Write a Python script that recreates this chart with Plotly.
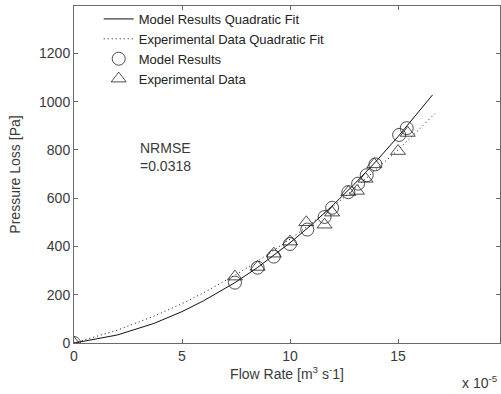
import plotly.graph_objects as go

# Flow rate values in units of 1e-5 m^3/s, pressure loss in Pa
model_x = [0, 7.45, 8.5, 9.25, 10.0, 10.8, 11.6, 11.95, 12.7, 13.15, 13.55, 13.95, 15.05, 15.4]
model_y = [0, 250, 312, 358, 410, 470, 522, 560, 625, 660, 695, 740, 862, 890]

exp_x = [0, 7.45, 8.5, 9.25, 10.0, 10.75, 11.6, 11.95, 12.7, 13.1, 13.5, 13.9, 15.0, 15.45]
exp_y = [0, 275, 315, 370, 420, 500, 490, 540, 625, 630, 680, 740, 795, 870]

model_fit_x = [0, 2, 3.7, 5, 6, 7.45, 8.5, 10, 11, 12, 13, 14, 15, 16, 16.6]
model_fit_y = [0, 33, 81, 130, 175, 250, 313, 415, 490, 572, 660, 754, 855, 961, 1028]

exp_fit_x = [0, 2, 3.7, 5, 6, 7.45, 8.5, 10, 11, 12, 13, 14, 15, 16, 16.7]
exp_fit_y = [0, 53, 111, 163, 208, 281, 339, 430, 496, 566, 640, 718, 800, 887, 950]

x_ticks = [0, 5, 10, 15]
y_ticks = [0, 200, 400, 600, 800, 1000, 1200]

FONT = "Liberation Sans, Arial, sans-serif"
AX = "#6a6a6a"
TXT = "#3a3a3a"

fig = go.Figure()
fig.add_trace(go.Scatter(x=model_fit_x, y=model_fit_y, mode="lines",
                         line=dict(color="#111", width=1),
                         name="Model Results Quadratic Fit"))
fig.add_trace(go.Scatter(x=exp_fit_x, y=exp_fit_y, mode="lines",
                         line=dict(color="#111", width=1, dash="1px,3px"),
                         name="Experimental Data Quadratic Fit"))
fig.add_trace(go.Scatter(x=model_x, y=model_y, mode="markers",
                         marker=dict(symbol="circle-open", size=13, color="#222",
                                     line=dict(width=0.8, color="#222")),
                         name="Model Results"))
fig.add_trace(go.Scatter(x=exp_x, y=exp_y, mode="markers",
                         marker=dict(symbol="triangle-up-open", size=13, color="#222",
                                     line=dict(width=0.8, color="#222")),
                         name="Experimental Data"))

axis_common = dict(showline=True, linecolor=AX, linewidth=1, mirror="ticks",
                   ticks="inside", ticklen=4, tickcolor=AX, showgrid=False,
                   zeroline=False, automargin=False,
                   tickfont=dict(family=FONT, size=14, color=TXT))

fig.update_layout(
    width=501, height=394,
    margin=dict(l=74, r=1, t=6, b=51, autoexpand=False),
    paper_bgcolor="white", plot_bgcolor="white",
    font=dict(family=FONT, size=14, color=TXT),
    xaxis=dict(range=[0, 19.72], tickvals=x_ticks, ticktext=[str(v) for v in x_ticks],
               title=dict(text="Flow Rate [m<sup>3</sup> s<sup>-</sup>1]", standoff=3,
                          font=dict(family=FONT, size=14, color=TXT)),
               **axis_common),
    yaxis=dict(range=[0, 1396], tickvals=y_ticks, ticktext=[str(v) for v in y_ticks],
               title=dict(text="Pressure Loss [Pa]",
                          font=dict(family=FONT, size=14, color=TXT)),
               **axis_common),
    legend=dict(x=0.058, y=1.006, xanchor="left", yanchor="top",
                bgcolor="rgba(0,0,0,0)", borderwidth=0,
                font=dict(family=FONT, size=13, color="#222"),
                tracegroupgap=0),
    annotations=[
        dict(text="NRMSE<br>=0.0318", x=2.95, y=770, xref="x", yref="y",
             showarrow=False, align="left", xanchor="left", yanchor="middle",
             font=dict(family=FONT, size=14, color=TXT)),
        dict(text="x 10<sup>-5</sup>", x=1.0, y=-0.148, xref="paper", yref="paper",
             showarrow=False, xanchor="right", yanchor="bottom",
             font=dict(family=FONT, size=14, color=TXT)),
    ],
)

fig.write_html("out.html", config={"displayModeBar": False},
               post_script="document.body.style.margin='0';document.body.style.overflow='hidden';")
